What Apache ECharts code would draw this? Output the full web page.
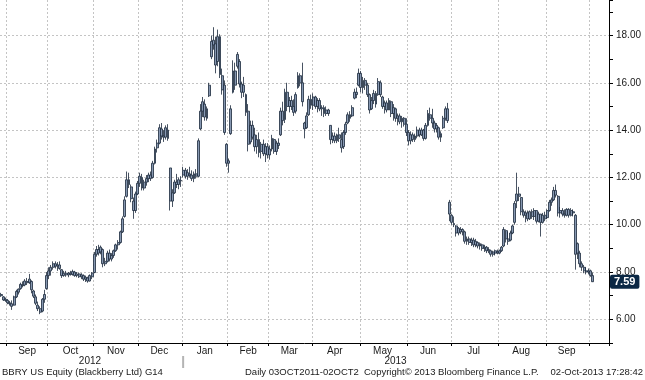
<!DOCTYPE html>
<html><head><meta charset="utf-8">
<script src="https://cdn.jsdelivr.net/npm/echarts@6/dist/echarts.min.js"></script>
<style>html,body{margin:0;padding:0;background:#fff;}#c{width:645px;height:380px;}</style>
</head><body><div id="c"></div>
<script>
// ---- calendar (trading days) ----
const firstDay = [2012, 7, 29];   // 29 Aug 2012
const lastDay = [2013, 9, 11];    // 11 Oct 2013 (empty space after last bar)
const holidays = ['2012-09-03','2012-10-29','2012-10-30','2012-11-22','2012-12-25','2013-01-01',
  '2013-01-21','2013-02-18','2013-03-29','2013-05-27','2013-07-04','2013-09-02'];
const monthNames = ['Jan','Feb','Mar','Apr','May','Jun','Jul','Aug','Sep','Oct','Nov','Dec'];

// ---- daily prices (BBRY) ----
const opens = [
7.05,6.95,6.85,6.80,6.70,6.66,6.60,6.95,7.15,7.30,
7.45,7.45,7.60,7.55,7.60,7.20,6.95,6.60,6.45,6.35,
6.85,7.30,7.85,8.05,8.20,8.35,8.25,8.30,8.10,7.85,
7.95,7.88,7.95,7.90,8.00,7.85,7.92,7.80,7.85,7.70,
7.75,7.62,7.80,7.98,8.75,8.95,8.85,8.95,8.35,8.45,
8.80,8.55,8.70,8.90,9.15,9.25,9.70,10.35,11.20,11.90,
11.60,11.00,10.60,11.30,11.75,12.00,11.55,11.80,11.95,12.10,
12.00,12.60,13.25,13.45,14.05,13.75,13.70,14.00,12.40,11.00,
11.35,11.80,11.70,11.85,12.10,12.30,12.05,12.15,12.10,11.95,
12.15,12.05,14.05,14.80,15.10,14.50,15.45,17.10,17.80,17.65,
16.90,17.95,16.30,15.90,13.40,12.60,13.85,15.60,16.50,16.70,
16.90,15.95,15.60,15.50,14.80,13.50,14.20,13.80,13.30,13.60,
13.10,13.40,13.00,13.30,12.95,13.20,13.60,13.10,13.45,13.80,
14.80,14.45,15.60,15.00,15.25,15.00,14.80,15.80,16.30,16.00,
14.30,14.10,14.65,15.30,15.05,15.40,15.00,15.25,14.90,14.95,
14.70,14.85,14.20,13.60,13.75,13.55,13.80,13.60,13.30,13.90,
14.30,14.65,14.60,15.35,15.60,15.90,16.40,15.80,16.10,15.90,
15.50,14.90,15.25,15.55,15.50,16.00,15.40,15.00,15.15,14.85,
15.20,14.70,14.90,14.50,14.60,14.35,14.50,14.25,13.90,13.55,
13.80,13.60,13.75,14.00,13.80,14.00,13.65,14.20,14.65,14.50,
14.30,14.05,14.10,13.70,14.10,14.50,14.90,10.95,10.40,10.05,
9.95,9.65,9.80,9.70,9.70,9.30,9.40,9.25,9.35,9.15,
9.25,9.10,9.15,9.00,9.05,8.90,8.90,8.75,8.80,8.85,
8.80,8.90,9.10,9.75,9.40,9.35,9.65,10.10,11.00,11.30,
11.15,10.55,10.40,10.50,10.25,10.55,10.35,10.60,10.15,10.45,
10.10,10.40,10.30,10.60,10.95,11.05,11.45,11.20,10.50,10.60,
10.45,10.40,10.65,10.40,10.55,10.40,9.20,8.80,8.35,8.20,
8.05,8.00,8.05,7.85];
const highs = [
7.12,6.98,6.92,6.86,6.78,6.80,7.00,7.25,7.30,7.55,
7.60,7.70,7.75,7.92,7.65,7.25,7.05,6.75,6.55,6.90,
7.25,8.00,8.20,8.30,8.45,8.45,8.42,8.45,8.12,8.05,
8.05,8.00,8.05,8.10,8.05,8.00,7.98,7.95,7.90,7.85,
7.80,7.90,8.00,8.85,9.10,9.15,9.12,9.00,8.60,8.90,
8.95,8.80,8.95,9.20,9.35,9.75,10.35,11.20,12.25,12.20,
11.70,11.15,11.40,11.85,12.20,12.15,11.90,12.10,12.20,12.25,
12.70,13.30,13.60,14.25,14.30,14.00,14.20,14.25,12.40,11.50,
11.90,12.15,12.00,12.05,12.45,12.40,12.35,12.45,12.30,12.25,
12.35,13.65,15.10,15.40,15.30,15.00,16.00,18.00,18.35,17.95,
18.25,18.05,16.60,16.10,13.45,12.80,15.05,16.95,16.85,17.30,
17.00,16.05,16.25,15.55,15.10,14.40,14.40,14.10,13.80,13.90,
13.50,13.60,13.45,13.45,13.35,13.80,13.65,13.55,13.65,14.95,
15.20,15.75,16.00,15.40,15.45,15.30,15.60,16.45,16.40,16.85,
14.35,14.75,15.45,15.50,15.55,15.45,15.35,15.35,15.05,15.05,
15.00,14.90,14.20,13.90,13.90,13.85,14.10,13.90,14.00,14.35,
14.75,14.80,15.05,15.75,15.80,16.60,16.50,16.25,16.20,16.00,
15.55,15.40,15.70,15.65,16.20,16.10,15.45,15.25,15.25,15.35,
15.25,15.10,14.95,14.70,14.70,14.60,14.55,14.50,14.00,13.95,
13.90,13.85,14.15,14.10,14.10,14.05,14.30,14.85,14.95,14.90,
14.40,14.30,14.15,13.95,14.60,15.00,15.15,11.05,10.45,10.35,
9.98,9.90,9.90,9.85,9.75,9.50,9.50,9.45,9.45,9.40,
9.30,9.25,9.20,9.15,9.10,9.05,8.95,8.90,8.95,8.95,
8.95,9.10,9.90,9.80,9.70,9.75,10.00,11.00,12.20,11.60,
11.15,10.65,10.60,10.60,10.60,10.65,10.70,10.60,10.55,10.45,
10.50,10.55,10.65,11.05,11.15,11.60,11.70,11.25,10.75,10.70,
10.65,10.70,10.70,10.70,10.65,10.45,9.25,8.90,8.45,8.30,
8.20,8.15,8.10,7.98];
const lows = [
6.95,6.78,6.74,6.64,6.58,6.40,6.58,6.90,7.05,7.25,
7.35,7.40,7.45,7.50,7.10,6.90,6.60,6.35,6.22,6.30,
6.70,7.25,7.70,7.85,8.10,8.15,8.05,8.10,7.75,7.80,
7.80,7.78,7.85,7.85,7.80,7.78,7.75,7.70,7.62,7.58,
7.55,7.60,7.70,7.95,8.65,8.70,8.75,8.20,8.25,8.40,
8.45,8.45,8.60,8.85,8.95,9.20,9.65,10.30,11.15,11.55,
10.95,10.25,10.50,11.25,11.60,11.45,11.45,11.65,11.80,11.85,
11.95,12.55,13.05,13.40,13.60,13.50,13.60,13.55,10.60,10.75,
11.30,11.55,11.50,11.60,12.00,11.95,11.90,12.00,11.85,11.80,
11.95,12.00,14.00,14.55,14.40,14.40,15.40,17.00,17.40,16.40,
16.70,16.20,15.50,13.80,12.45,12.20,13.80,15.55,15.70,16.60,
15.80,15.35,15.40,14.60,13.10,13.40,13.60,13.10,13.00,12.85,
12.80,12.90,12.65,12.80,12.75,13.10,13.00,12.95,13.20,13.75,
14.20,14.30,14.80,14.75,14.85,14.60,14.70,15.75,15.85,15.00,
13.65,14.05,14.60,14.90,14.85,14.90,14.75,14.80,14.60,14.55,
14.60,14.60,13.40,13.45,13.45,13.45,13.50,13.05,13.20,13.80,
14.25,14.35,14.55,15.30,15.35,15.85,15.60,15.55,15.70,15.40,
14.70,14.85,15.10,14.95,15.45,15.40,14.90,14.70,14.75,14.85,
14.55,14.40,14.35,14.20,14.25,14.10,14.15,13.75,13.35,13.40,
13.50,13.50,13.65,13.70,13.75,13.55,13.60,14.15,14.40,14.10,
13.90,13.90,13.60,13.50,14.05,14.40,14.30,10.15,10.00,9.90,
9.50,9.55,9.60,9.55,9.20,9.15,9.15,9.10,9.05,9.05,
9.00,8.95,8.90,8.85,8.80,8.80,8.65,8.65,8.70,8.75,
8.75,8.85,9.05,9.25,9.15,9.30,9.60,10.00,10.70,11.00,
10.40,10.30,10.10,10.15,10.20,10.25,10.20,10.05,10.10,9.50,
10.05,10.15,10.25,10.55,10.80,11.00,11.15,10.35,10.30,10.35,
10.30,10.35,10.30,10.35,10.35,8.10,8.55,8.20,8.05,7.95,
7.90,7.90,7.80,7.58];
const closes = [
7.00,6.82,6.80,6.70,6.66,6.55,6.95,7.18,7.28,7.48,
7.42,7.62,7.55,7.70,7.25,6.98,6.68,6.45,6.30,6.85,
7.05,7.85,8.05,8.20,8.35,8.25,8.30,8.15,7.85,7.95,
7.88,7.95,7.90,8.02,7.85,7.92,7.80,7.88,7.70,7.78,
7.62,7.85,7.95,8.75,8.95,8.80,9.05,8.35,8.45,8.80,
8.55,8.70,8.90,9.15,9.25,9.70,10.25,11.05,11.90,11.70,
11.10,10.60,11.30,11.75,12.05,11.55,11.80,11.95,12.10,11.95,
12.60,13.20,13.45,14.10,13.75,13.70,14.10,13.65,11.00,11.35,
11.80,11.70,11.90,11.87,12.30,12.05,12.20,12.10,11.95,12.15,
12.05,13.55,14.80,15.20,14.55,14.90,15.90,17.75,17.60,16.75,
17.95,16.35,15.70,13.90,12.60,12.70,14.90,16.50,15.90,17.20,
15.95,15.60,15.90,14.75,13.40,14.20,13.70,13.30,13.60,13.05,
13.40,13.00,13.30,12.95,13.20,13.65,13.10,13.45,13.35,14.80,
14.40,15.60,15.00,15.25,15.00,14.75,15.50,16.30,16.00,15.20,
14.05,14.60,15.30,15.05,15.40,15.00,15.25,14.90,14.95,14.70,
14.85,14.70,13.60,13.75,13.55,13.80,13.65,13.25,13.90,14.25,
14.65,14.50,14.95,15.60,15.50,16.40,15.80,16.10,15.90,15.50,
14.85,15.25,15.55,15.10,16.05,15.50,15.00,15.15,14.85,15.25,
14.70,14.95,14.50,14.60,14.35,14.50,14.25,13.90,13.55,13.80,
13.60,13.75,14.00,13.80,14.00,13.65,14.20,14.70,14.50,14.30,
14.05,14.20,13.70,13.85,14.50,14.90,14.40,10.45,10.10,10.00,
9.65,9.85,9.70,9.80,9.30,9.40,9.25,9.35,9.15,9.30,
9.10,9.20,9.00,9.05,8.90,8.95,8.75,8.85,8.90,8.80,
8.90,9.05,9.80,9.40,9.30,9.65,9.95,10.90,11.30,11.20,
10.55,10.40,10.50,10.25,10.55,10.35,10.60,10.15,10.45,10.10,
10.40,10.25,10.60,10.95,11.05,11.45,11.25,10.50,10.60,10.45,
10.40,10.65,10.40,10.60,10.50,8.75,8.80,8.35,8.20,8.05,
8.00,8.05,7.85,7.59];
const lastPrice = 7.59;
const priceLabels = [6, 8, 10, 12, 14, 16, 18];

// ---- build categories ----
const days = [];
{
  let t = Date.UTC(firstDay[0], firstDay[1], firstDay[2]);
  const tEnd = Date.UTC(lastDay[0], lastDay[1], lastDay[2]);
  while (t <= tEnd) {
    const dt = new Date(t);
    const wd = dt.getUTCDay();
    const s = dt.toISOString().slice(0, 10);
    if (wd !== 0 && wd !== 6 && holidays.indexOf(s) < 0) days.push(s);
    t += 86400000;
  }
}
const ohlc = opens.map((o, i) => [o, closes[i], lows[i], highs[i]]);

// month / year groups
const monthStart = {}, monthLabelIdx = {}, yearLabelIdx = {}, yearStart = {};
{
  const groups = [];
  days.forEach((s, i) => {
    const key = s.slice(0, 7);
    if (!groups.length || groups[groups.length - 1].key !== key) groups.push({ key, first: i, last: i });
    else groups[groups.length - 1].last = i;
  });
  groups.forEach((g, k) => {
    if (k > 0) monthStart[g.first] = true;
    if (g.last - g.first + 1 >= 15) monthLabelIdx[Math.floor((g.first + g.last) / 2)] = monthNames[+g.key.slice(5, 7) - 1];
  });
  const years = [];
  days.forEach((s, i) => {
    const y = s.slice(0, 4);
    if (!years.length || years[years.length - 1].y !== y) years.push({ y, first: i, last: i });
    else years[years.length - 1].last = i;
  });
  years.forEach((g, k) => {
    if (k > 0) yearStart[g.first] = true;
    yearLabelIdx[Math.floor((g.first + g.last) / 2)] = g.y;
  });
}

const FONT = "'Liberation Sans', Arial, sans-serif";
const TXT = '#1a1a1a';
const GRIDC = '#c4c4c4';
const FOOT = '9.5px ' + FONT;

const chart = echarts.init(document.getElementById('c'), null, { renderer: 'canvas' });
chart.setOption({
  animation: false,
  backgroundColor: '#ffffff',
  grid: { left: 0, right: 36, top: 0, bottom: 37, containLabel: false },
  xAxis: [{
    type: 'category', data: days, boundaryGap: true,
    axisLine: { show: true, lineStyle: { color: '#000', width: 1 } },
    axisTick: { show: true, length: 3, lineStyle: { color: '#000' }, interval: (i) => !!monthStart[i] },
    axisLabel: { show: true, interval: (i) => monthLabelIdx[i] !== undefined, formatter: (v, i) => monthLabelIdx[i] || '',
      color: TXT, fontFamily: FONT, fontSize: 10, margin: 3 },
    splitLine: { show: true, interval: (i) => !!monthStart[i], lineStyle: { color: GRIDC, type: [2, 2], width: 1 } }
  }, {
    type: 'category', data: days, boundaryGap: true, position: 'bottom', offset: 12,
    axisLine: { show: false },
    axisTick: { show: false },
    axisLabel: { show: true,
      interval: (i) => yearLabelIdx[i] !== undefined || !!yearStart[i],
      formatter: (v, i) => yearStart[i] ? '{sep|}' : (yearLabelIdx[i] || ''),
      rich: { sep: { width: 2, height: 12, backgroundColor: '#b4b4b4', align: 'right' } },
      color: TXT, fontFamily: FONT, fontSize: 10, margin: 1 },
    splitLine: { show: false }
  }],
  yAxis: {
    type: 'value', position: 'right', min: 5, max: 19.5, interval: 1,
    axisLine: { show: true, lineStyle: { color: '#000', width: 1 } },
    axisTick: { show: true, length: 4, lineStyle: { color: '#000' } },
    axisLabel: { show: true, margin: 7, color: TXT, fontFamily: FONT, fontSize: 10,
      formatter: (v) => priceLabels.indexOf(v) >= 0 ? v.toFixed(2) : '' },
    splitLine: { show: true, showMaxLine: false, lineStyle: { color: ['rgba(0,0,0,0)', GRIDC], type: [2, 2], width: 1 } },
    axisPointer: {
      show: true, type: 'line', value: lastPrice, status: 'show', snap: false, triggerTooltip: false,
      lineStyle: { opacity: 0, width: 0 },
      label: { show: true, precision: 2, backgroundColor: '#0b2845', color: '#fff', fontFamily: FONT,
        fontSize: 11, fontWeight: 'bold', padding: [2, 4, 1, 4], margin: 1, borderRadius: 2 }
    }
  },
  series: [{
    type: 'candlestick', data: ohlc, xAxisIndex: 0, barWidth: 2.4,
    itemStyle: { color: '#8798b2', color0: '#8798b2', borderColor: '#1b283b', borderColor0: '#1b283b', borderWidth: 0.8 }
  }],
  graphic: [
    { type: 'text', left: 2, top: 367, style: { text: 'BBRY US Equity (Blackberry Ltd) G14', font: FOOT, fill: TXT } },
    { type: 'text', left: 245, top: 367, style: { text: 'Daily 03OCT2011-02OCT2', font: FOOT, fill: TXT } },
    { type: 'text', left: 364, top: 367, style: { text: 'Copyright\u00A9 2013 Bloomberg Finance L.P.', font: FOOT, fill: TXT } },
    { type: 'text', right: 2, top: 367, style: { text: '02-Oct-2013 17:28:42', font: FOOT, fill: TXT } }
  ]
});
</script>
</body></html>
